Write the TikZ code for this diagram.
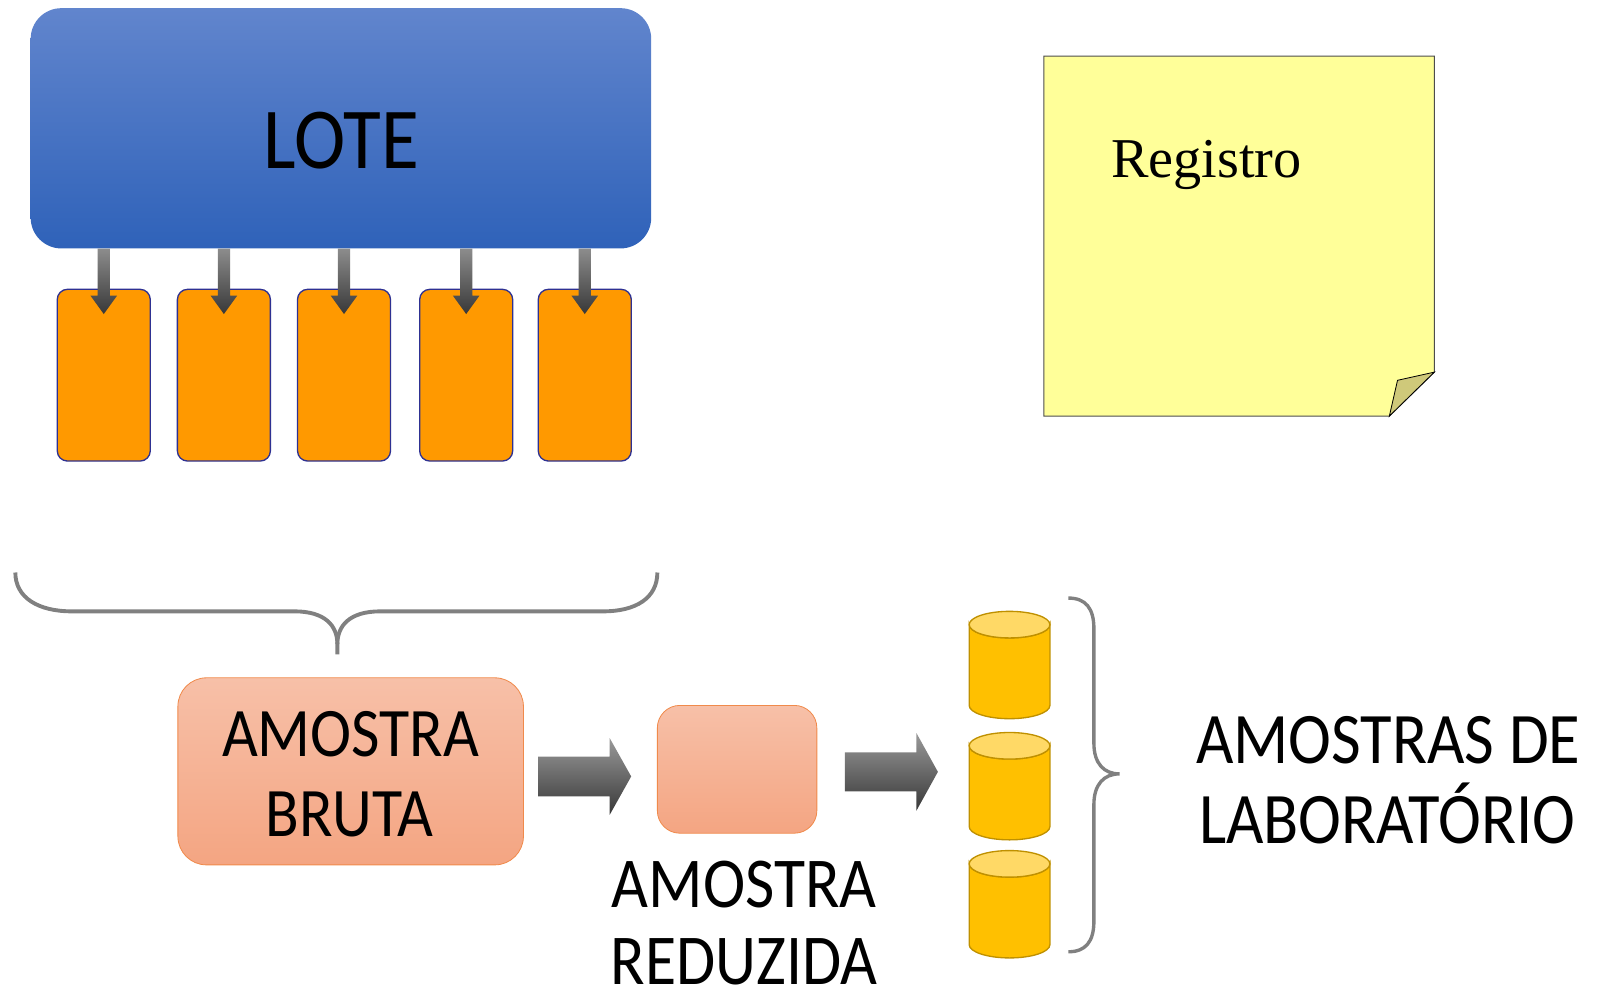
\documentclass[tikz,border=0pt]{standalone}
\usepackage{fontspec}
\newfontfamily\cond[FakeStretch=0.89]{Carlito}
\newfontfamily\tms{Liberation Serif}
\usetikzlibrary{calc}
\definecolor{lotetop}{HTML}{6185CD}
\definecolor{lotebot}{HTML}{2F62B9}
\definecolor{orangef}{HTML}{FF9900}
\definecolor{orangeb}{HTML}{2E3192}
\definecolor{salmtop}{HTML}{F7C0A8}
\definecolor{salmbot}{HTML}{F4A582}
\definecolor{salmb}{HTML}{F08A4B}
\definecolor{brgray}{HTML}{808080}
\definecolor{cylbody}{HTML}{FFC000}
\definecolor{cyltop}{HTML}{FFD966}
\definecolor{cylb}{HTML}{BF9000}
\definecolor{notef}{HTML}{FFFF99}
\definecolor{noteb}{HTML}{4D4D4D}
\definecolor{foldf}{HTML}{CFC97A}
\tikzset{
  lotebox/.style={rounded corners=30pt, top color=lotetop, bottom color=lotebot, draw=none, inner sep=0pt},
  subbox/.style={rounded corners=10pt, fill=orangef, draw=orangeb, line width=1.3pt, minimum width=91pt, minimum height=168pt, inner sep=0pt},
  salmbox/.style={top color=salmtop, bottom color=salmbot, draw=salmb, line width=0.8pt, inner sep=0pt},
  downarrow/.style={top color=black!45, bottom color=black!78, draw=none},
  blockarrow/.style={top color=black!40, bottom color=black!78, draw=none},
  bracestyle/.style={draw=brgray, line width=3.8pt},
  lbl/.style={anchor=base, inner sep=0pt, text depth=0pt},
  cylbodyst/.style={fill=cylbody, draw=cylb, line width=1.3pt},
  cyltopst/.style={fill=cyltop, draw=cylb, line width=1.3pt},
}
\newcommand{\cylat}[1]{%
  \filldraw[cylbodyst] ($(#1)+(-39.5,-39.5)$) -- ++(0,79)
    arc[start angle=180, end angle=0, x radius=39.5, y radius=13] -- ++(0,-79)
    arc[start angle=0, end angle=180, x radius=39.5, y radius=13] -- cycle;
  \filldraw[cyltopst] ($(#1)+(0,-39.5)$) ellipse [x radius=39.5, y radius=13];
}
\begin{document}
\begin{tikzpicture}[x=1pt,y=-1pt]
\useasboundingbox (0,0) rectangle (1568,971);
% LOTE
\node[lotebox, minimum width=607pt, minimum height=235pt] (lote) at (333.5,125.5) {};
\node[lbl, font=\cond\fontsize{85}{100}\selectfont] (lotetxt) at (334,165) {LOTE};
% sub boxes
\node[subbox] (b1) at (101.5,367) {};
\node[subbox] (b2) at (219,367) {};
\node[subbox] (b3) at (336.5,367) {};
\node[subbox] (b4) at (456,367) {};
\node[subbox] (b5) at (572,367) {};
\foreach \i in {1,...,5}{
  \shade[downarrow] (lote.south -| b\i) ++(-6,0) -- ++(0,46) -- ++(-7,0) -- ++(13,18) -- ++(13,-18) -- ++(-7,0) -- ++(0,-46) -- cycle;
}
% top brace
\draw[bracestyle] (15,560) .. controls (15,585) and (38,598) .. (70,598) -- (288,598)
  .. controls (318,598) and (330,612) .. (330,630) -- (330,640);
\draw[bracestyle] (330,630) .. controls (330,612) and (342,598) .. (372,598) -- (590,598)
  .. controls (622,598) and (643,585) .. (643,560);
% amostra bruta
\node[salmbox, rounded corners=28pt, minimum width=338pt, minimum height=183pt] (bruta) at (343,754.5) {};
\node[lbl, font=\cond\fontsize{68}{78}\selectfont] (bt1) at (343,740) {AMOSTRA};
\node[lbl, font=\cond\fontsize{68}{78}\selectfont] (bt2) at (342,818) {BRUTA};
% amostra reduzida
\node[salmbox, rounded corners=22pt, minimum width=156pt, minimum height=125pt] (red) at (721,752.5) {};
\node[lbl, font=\cond\fontsize{70}{78}\selectfont] (rt1) at (728,888) {AMOSTRA};
\node[lbl, font=\cond\fontsize{70}{78}\selectfont] (rt2) at (728,963) {REDUZIDA};
% block arrows
\shade[blockarrow] (bruta.east) ++(14,-14.5) -- ++(70,0) -- ++(0,-18) -- ++(21,37.5) -- ++(-21,37.5) -- ++(0,-18) -- ++(-70,0) -- cycle;
\shade[blockarrow] (red.east) ++(27,-16.5) -- ++(70,0) -- ++(0,-19) -- ++(21,38) -- ++(-21,38) -- ++(0,-19) -- ++(-70,0) -- cycle;
% cylinders
\coordinate (c1) at (987.5,650.5);
\coordinate (c2) at (987.5,769);
\coordinate (c3) at (987.5,884.5);
\cylat{c1}
\cylat{c2}
\cylat{c3}
% right brace
\draw[bracestyle, line width=3.3pt] (1045,585) .. controls (1062,585) and (1070,595) .. (1070,615) -- (1070,727)
  .. controls (1070,747) and (1080,757) .. (1095,757)
  .. controls (1080,757) and (1070,767) .. (1070,787) -- (1070,901)
  .. controls (1070,921) and (1062,931) .. (1045,931);
\node[lbl, font=\cond\fontsize{71}{78}\selectfont] (lt1) at (1358,747) {AMOSTRAS DE};
\node[lbl, font=\cond\fontsize{71}{78}\selectfont] (lt2) at (1357,825) {LABORATÓRIO};
% note
\filldraw[fill=notef, draw=noteb, line width=1pt] (1021,55) -- (1403,55) -- (1403,364) -- (1359,407) -- (1021,407) -- cycle;
\filldraw[fill=foldf, draw=black, line width=0.8pt] (1359,407) -- (1367,372) -- (1403,364) -- cycle;
\node[lbl, font=\tms\fontsize{55}{60}\selectfont] (reg) at (1180,174) {Registro};
\end{tikzpicture}
\end{document}
